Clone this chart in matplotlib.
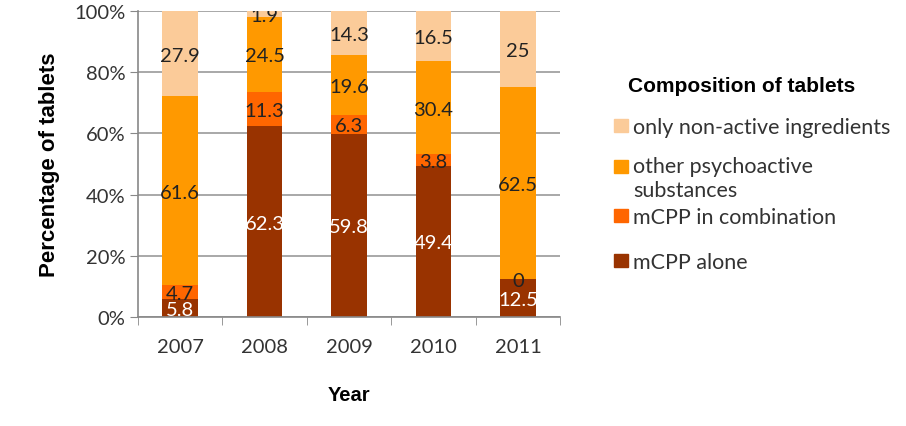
import matplotlib
matplotlib.use("Agg")
import matplotlib.pyplot as plt
import numpy as np
from matplotlib.patches import Rectangle

years = ["2007", "2008", "2009", "2010", "2011"]
mcpp_alone = [5.8, 62.3, 59.8, 49.4, 12.5]
mcpp_comb = [4.7, 11.3, 6.3, 3.8, 0]
other_psycho = [61.6, 24.5, 19.6, 30.4, 62.5]
non_active = [27.9, 1.9, 14.3, 16.5, 25]

series = [mcpp_alone, mcpp_comb, other_psycho, non_active]
names = ["mCPP alone", "mCPP in combination", "other psychoactive\nsubstances",
         "only non-active ingredients"]
colors = ["#993300", "#FF6600", "#FF9900", "#FBCB99"]
label_colors = ["white", "#222222", "#222222", "#222222"]
yticks = [0, 20, 40, 60, 80, 100]
ytick_labels = ["0%", "20%", "40%", "60%", "80%", "100%"]

lbl_font = "Lato"

fig = plt.figure(figsize=(9.06, 4.27), dpi=100)
ax = fig.add_axes([0.1523, 0.2553, 0.466, 0.7166])

x = np.arange(len(years))
bottom = np.zeros(len(years))
for vals, col, tc in zip(series, colors, label_colors):
    vals = np.array(vals, dtype=float)
    ax.bar(x, vals, 0.42, bottom=bottom, color=col, zorder=2)
    for xi, b, v in zip(x, bottom, vals):
        ax.text(xi, b + v / 2, f"{v:g}", ha="center", va="center_baseline",
                color=tc, fontsize=14.5, family=lbl_font, zorder=3, clip_on=True)
    bottom += vals

ax.set_xlim(-0.5, 4.5)
ax.set_ylim(0, 100)
ax.set_yticks(yticks)
ax.set_yticklabels(ytick_labels, family=lbl_font, fontsize=14.5, color="#333333")
ax.set_xticks(x)
ax.set_xticklabels(years, family=lbl_font, fontsize=14.5, color="#333333")
ax.set_xticks(np.arange(-0.5, 5, 1), minor=True)
ax.tick_params(axis="x", which="major", length=0, pad=15)
ax.tick_params(axis="x", which="minor", length=6, color="#888888")
ax.tick_params(axis="y", length=6, color="#888888", pad=3)
ax.yaxis.grid(True, color="#999999", linewidth=1.2, zorder=0)
ax.set_axisbelow(True)
for s in ["top", "right"]:
    ax.spines[s].set_visible(False)
for s in ["left", "bottom"]:
    ax.spines[s].set_color("#888888")
    ax.spines[s].set_linewidth(1.2)

ax.set_ylabel("Percentage of tablets", fontsize=16, fontweight="bold",
              family="Liberation Sans", labelpad=10)
ax.set_xlabel("Year", fontsize=14.5, fontweight="bold", family="Liberation Sans",
              labelpad=22)

# legend
W, H = 906, 427
fig.text(628 / W, 1 - 87 / H, "Composition of tablets", fontsize=15,
         fontweight="bold", family="Liberation Sans", va="center", ha="left")
leg_items = [(3, 127, 127), (2, 168, 178), (1, 217, 217), (0, 262, 262)]
for idx, ysq, yc in leg_items:
    fig.patches.append(Rectangle((614 / W, 1 - (ysq + 6) / H), 14 / W, 13 / H,
                                 transform=fig.transFigure, color=colors[idx]))
    fig.text(633 / W, 1 - (yc + 1) / H, names[idx], fontsize=15.5, family=lbl_font,
             color="#333333", va="center", ha="left", linespacing=1.25)

fig.savefig("out.png", dpi=100)
